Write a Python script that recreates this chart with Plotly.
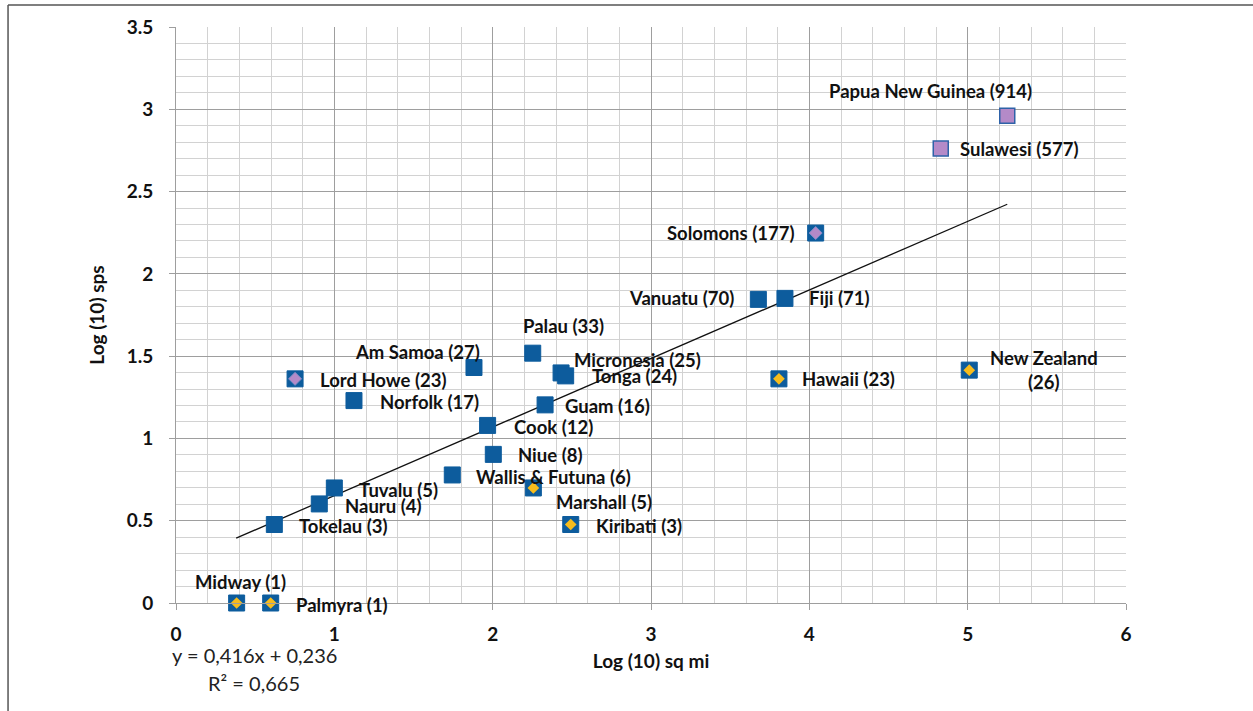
import plotly.graph_objects as go

# ---- data ----
names = ["Papua New Guinea", "Sulawesi", "Solomons", "Vanuatu", "Fiji", "Palau",
         "Am Samoa", "Micronesia", "Tonga", "Lord Howe", "Hawaii", "New Zealand",
         "Norfolk", "Guam", "Cook", "Niue", "Wallis & Futuna", "Marshall",
         "Tuvalu", "Nauru", "Tokelau", "Kiribati", "Midway", "Palmyra"]
species = [914, 577, 177, 70, 71, 33, 27, 25, 24, 23, 23, 26, 17, 16, 12, 8, 6, 5,
           5, 4, 3, 3, 1, 1]
log_sq_mi = [5.25, 4.83, 4.04, 3.678, 3.846, 2.253, 1.882, 2.432, 2.461, 0.752, 3.808, 5.01,
             1.124, 2.331, 1.968, 2.004, 1.745, 2.257, 1.0, 0.905, 0.621, 2.493, 0.383, 0.598]
log_sps = [2.961, 2.761, 2.248, 1.845, 1.851, 1.518, 1.431, 1.398, 1.380, 1.362, 1.362, 1.415,
           1.230, 1.204, 1.079, 0.903, 0.778, 0.699, 0.699, 0.602, 0.477, 0.477, 0.0, 0.0]
marker_group = ["lilac_sq", "lilac_sq", "lilac_dia", "blue", "blue", "blue",
                "blue", "blue", "blue", "lilac_dia", "yellow", "yellow",
                "blue", "blue", "blue", "blue", "blue", "yellow",
                "blue", "blue", "blue", "yellow", "yellow", "yellow"]

# trendline endpoints
trend_x = [0.38, 5.25]
trend_y = [0.394, 2.423]
equation_text = "y = 0,416x + 0,236"
r2_text = "R² = 0,665"

x_title = "Log (10) sq mi"
y_title = "Log (10) sps"

labels = [f"{n} ({s})" if n != "New Zealand" else f"{n}<br>({s})" for n, s in zip(names, species)]

# ---- styles (label placement relative to each point, in px) ----
label_style = {
    "Papua New Guinea": ("left", -180, 25),
    "Sulawesi": ("left", 17, 0),
    "Solomons": ("right", -19, 0),
    "Vanuatu": ("right", -22, 1),
    "Fiji": ("left", 22, 0),
    "Palau": ("left", -12, 27),
    "Am Samoa": ("right", 8, 16),
    "Micronesia": ("left", 11, 13),
    "Tonga": ("left", 24, 0),
    "Lord Howe": ("left", 23, -1),
    "Hawaii": ("left", 21, 0),
    "New Zealand": ("left", 19, 0),
    "Norfolk": ("left", 24, -1),
    "Guam": ("left", 18, -1),
    "Cook": ("left", 24, -2),
    "Niue": ("left", 23, -1),
    "Wallis & Futuna": ("left", 22, -2),
    "Marshall": ("left", 21, -14),
    "Tuvalu": ("left", 23, -2),
    "Nauru": ("left", 24, -2),
    "Tokelau": ("left", 23, -1),
    "Kiribati": ("left", 23, -1),
    "Midway": ("center", 4, 21),
    "Palmyra": ("left", 23, -2),
}

BLUE = "#0D5C9D"
YELLOW = "#F7BC1C"
LILAC = "#B48AC8"
FONT = "Lato"

fig = go.Figure()

fig.add_trace(go.Scatter(x=trend_x, y=trend_y, mode="lines",
                         line=dict(color="#111111", width=1.3), hoverinfo="skip"))

def sel(g):
    idx = [i for i, m in enumerate(marker_group) if m == g]
    return [log_sq_mi[i] for i in idx], [log_sps[i] for i in idx]

# blue squares (base for blue, yellow and lilac-diamond groups)
for g in ["blue", "yellow", "lilac_dia"]:
    xs, ys = sel(g)
    fig.add_trace(go.Scatter(x=xs, y=ys, mode="markers", cliponaxis=False,
                             marker=dict(symbol="square", size=16, color=BLUE,
                                         line=dict(color=BLUE, width=1))))
xs, ys = sel("yellow")
fig.add_trace(go.Scatter(x=xs, y=ys, mode="markers", cliponaxis=False,
                         marker=dict(symbol="diamond", size=9, color=YELLOW,
                                     line=dict(width=0))))
xs, ys = sel("lilac_dia")
fig.add_trace(go.Scatter(x=xs, y=ys, mode="markers", cliponaxis=False,
                         marker=dict(symbol="diamond", size=10, color=LILAC,
                                     line=dict(color="#7F8FC8", width=1))))
xs, ys = sel("lilac_sq")
fig.add_trace(go.Scatter(x=xs, y=ys, mode="markers", cliponaxis=False,
                         marker=dict(symbol="square", size=15, color=LILAC,
                                     line=dict(color="#2E62A8", width=1.5))))

LABEL_SIZE = 18.5
annotations = []
for n, lab, x, y in zip(names, labels, log_sq_mi, log_sps):
    anchor, dx, dy = label_style[n]
    annotations.append(dict(x=x, y=y, xref="x", yref="y", text=lab, showarrow=False,
                            xanchor=anchor, yanchor="middle", xshift=dx, yshift=dy,
                            align="center",
                            font=dict(family=FONT, size=LABEL_SIZE, color="#111111", weight="bold")))

annotations.append(dict(x=-0.006, y=-0.09, xref="paper", yref="paper", text=equation_text,
                        showarrow=False, xanchor="left", yanchor="middle",
                        font=dict(family=FONT, size=20, color="#222222")))
annotations.append(dict(x=0.032, y=-0.139, xref="paper", yref="paper", text=r2_text,
                        showarrow=False, xanchor="left", yanchor="middle",
                        font=dict(family=FONT, size=20, color="#222222")))

axis_font = dict(family=FONT, size=19, color="#111111", weight="bold")

fig.update_layout(
    width=1253, height=711,
    margin=dict(l=176, r=127, t=27, b=108),
    paper_bgcolor="white", plot_bgcolor="white",
    showlegend=False,
    annotations=annotations,
    xaxis=dict(range=[0, 6], dtick=1, tick0=0, showgrid=True, gridcolor="#9e9e9e", gridwidth=1,
               minor=dict(dtick=0.2, showgrid=True, gridcolor="#d2d2d2", gridwidth=1),
               showline=True, linecolor="#9e9e9e", linewidth=1,
               ticks="outside", ticklen=6, tickcolor="#9e9e9e",
               tickfont=axis_font, ticklabelstandoff=8, zeroline=False,
               title=dict(text=x_title, font=axis_font, standoff=10)),
    yaxis=dict(range=[0, 3.5], dtick=0.5, tick0=0, showgrid=True, gridcolor="#9e9e9e", gridwidth=1,
               minor=dict(dtick=0.1, showgrid=True, gridcolor="#d2d2d2", gridwidth=1),
               showline=True, linecolor="#9e9e9e", linewidth=1,
               ticks="outside", ticklen=6, tickcolor="#9e9e9e",
               tickfont=axis_font, ticklabelstandoff=12, zeroline=False,
               title=dict(text=y_title, font=axis_font, standoff=16)),
    shapes=[
        dict(type="line", xref="paper", yref="paper", x0=-0.1768, x1=1.2, y0=1.0382, y1=1.0382,
             line=dict(color="#555555", width=1.5)),
        dict(type="line", xref="paper", yref="paper", x0=-0.1768, x1=-0.1768, y0=1.0382, y1=-0.19,
             line=dict(color="#555555", width=1.5)),
    ],
)

fig.write_html("out.html", config={"displayModeBar": False},
               post_script="document.body.style.margin='0px';document.body.style.overflow='hidden';")
